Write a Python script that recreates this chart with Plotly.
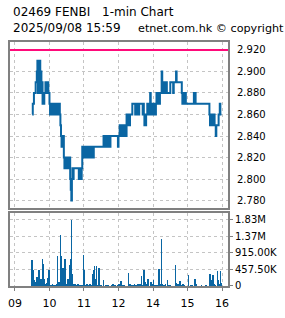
import plotly.graph_objects as go

# ---------------- data ----------------
prev_close = 2.92

price_times = ["09:30","09:31","09:33","09:36","09:38","09:39","09:40","09:41","09:42","09:43","09:44","09:45","09:46","09:47","09:48",
               "09:51","09:53","09:54","09:55","09:56","09:57","09:58","10:00","10:01","10:02","10:03","10:04","10:05","10:06",
               "10:09","10:10","10:11","10:12","10:13","10:14","10:15","10:16","10:18","10:19","10:20","10:21","10:22","10:23","10:24",
               "10:25","10:26","10:27","10:28","10:29","10:30","10:31","10:32","10:33","10:34","10:35","10:36","10:37","10:38","10:39",
               "10:40","10:41","10:42","10:51","10:52","10:53","10:54","10:55","10:56","10:57","10:58","10:59","11:00","11:01","11:03",
               "11:06","11:07","11:08","11:09","11:11","11:12","11:14","11:15","11:17",
               "11:34","11:35","11:36","11:37","11:38","11:41","11:42","11:43","11:44","11:45","11:46","11:59",
               "13:00","13:02","13:05","13:06","13:07","13:08","13:09","13:10","13:11","13:12","13:13",
               "13:14","13:15","13:16","13:19","13:20","13:24","13:29","13:30","13:32","13:33","13:35","13:36","13:42","13:43","13:44",
               "13:45","13:46","13:47","13:48","13:49","13:50","13:51","13:52","13:53","13:54","13:55","13:56","13:57","13:58","13:59",
               "14:00","14:01","14:02","14:03","14:04","14:05","14:06","14:09","14:10","14:11","14:12","14:15","14:16","14:17","14:18",
               "14:19","14:20","14:21","14:22","14:23","14:24","14:30","14:35","14:36","14:40","14:41","14:50","14:51","14:52","14:53",
               "14:54","14:57","15:11","15:14","15:38","15:39","15:40","15:41","15:42","15:43","15:44","15:45","15:46","15:47","15:49",
               "15:50","15:54","15:56","15:57","15:59"]
price_values = [2.86,2.87,2.88,2.89,2.90,2.91,2.88,2.91,2.89,2.91,2.88,2.90,2.88,2.89,2.87,
                2.88,2.89,2.88,2.89,2.88,2.89,2.88,2.87,2.86,2.87,2.86,2.87,2.86,2.87,
                2.86,2.87,2.86,2.87,2.86,2.87,2.86,2.87,2.86,2.85,2.84,2.83,2.84,2.83,2.84,
                2.82,2.81,2.82,2.81,2.82,2.81,2.82,2.81,2.82,2.81,2.82,2.80,2.79,2.78,2.80,
                2.81,2.80,2.81,2.80,2.81,2.80,2.81,2.80,2.81,2.83,2.82,2.83,2.82,2.83,2.82,
                2.83,2.82,2.83,2.82,2.83,2.82,2.83,2.82,2.83,
                2.84,2.83,2.84,2.83,2.84,2.83,2.84,2.83,2.84,2.83,2.84,2.83,
                2.84,2.85,2.84,2.85,2.84,2.85,2.84,2.85,2.84,2.85,2.84,
                2.86,2.85,2.86,2.85,2.86,2.87,2.86,2.87,2.86,2.87,2.86,2.87,2.86,2.87,2.86,
                2.85,2.86,2.85,2.86,2.86,2.87,2.86,2.87,2.86,2.87,2.88,2.86,2.87,2.86,2.87,
                2.86,2.87,2.86,2.87,2.86,2.87,2.88,2.87,2.88,2.87,2.88,2.90,2.88,2.89,2.88,
                2.89,2.88,2.89,2.88,2.89,2.88,2.89,2.88,2.89,2.90,2.89,2.88,2.87,2.88,2.87,
                2.88,2.87,2.88,2.87,2.86,2.85,2.86,2.85,2.86,2.85,2.86,2.85,2.86,2.85,2.84,
                2.85,2.86,2.87,2.86,2.86]

vol_times = ["09:30","09:31","09:32","09:33","09:34","09:35","09:36","09:37","09:38","09:39","09:40","09:41","09:42","09:43",
             "09:44","09:45","09:46","09:47","09:48","09:49","09:50","09:51","09:52","09:53","09:54","09:55","09:56","09:57",
             "09:58","09:59","10:00","10:02","10:03","10:05","10:06","10:07","10:08","10:10","10:12","10:13","10:14","10:15",
             "10:16","10:17","10:18","10:19","10:20","10:21","10:22","10:23","10:24","10:25","10:26","10:27","10:28","10:29",
             "10:30","10:31","10:32","10:33","10:34","10:35","10:36","10:37","10:38","10:39","10:40","10:41","10:42","10:44",
             "10:45","10:48","10:50","10:53","10:56","10:58","10:59","11:00","11:01","11:03","11:05","11:06","11:08","11:10",
             "11:11","11:12","11:13","11:16","11:17","11:18","11:19","11:21","11:22","11:23","11:25","11:26","11:30","11:34",
             "11:38","11:40","11:42","11:48","11:50","11:52","11:55","11:58","11:59",
             "13:00","13:01","13:02","13:03","13:04","13:05","13:06","13:07","13:10","13:17","13:19","13:20","13:21","13:23",
             "13:24","13:26","13:28","13:29","13:31","13:33","13:34","13:35","13:37","13:38","13:40","13:41","13:42","13:44",
             "13:45","13:46","13:47","13:49","13:51","13:52","13:56","13:57","13:58","14:00","14:01","14:03","14:05","14:08",
             "14:10","14:11","14:13","14:14","14:15","14:16","14:17","14:19","14:20","14:22","14:25","14:28","14:30","14:39",
             "14:40","14:42","14:44","14:45","14:47","14:50","14:52","14:55","15:02","15:05","15:08","15:13","15:15","15:24",
             "15:31","15:33","15:38","15:39","15:40","15:41","15:42","15:44","15:45","15:47","15:48","15:52","15:53","15:54",
             "15:56","15:57","15:58","15:59"]
vol_values_k = [732,150,441,120,183,60,90,120,266,150,208,100,457,440,
                150,208,80,120,765,300,624,208,60,40,58,30,100,233,
                60,457,291,40,30,60,40,30,50,30,58,40,832,120,
                60,120,40,1431,500,848,200,120,516,150,180,765,120,60,
                40,100,200,40,100,120,599,749,1830,300,333,60,40,80,
                40,30,60,30,40,40,873,457,40,30,60,30,40,60,
                20,40,30,333,450,557,200,100,557,40,40,516,20,183,
                30,30,30,30,58,30,30,30,40,
                60,80,50,40,150,40,30,20,20,358,30,60,40,40,
                30,50,60,40,30,60,50,80,60,30,291,50,30,457,
                80,120,60,60,208,60,120,100,80,60,183,40,30,40,
                483,60,60,40,1306,80,40,30,50,60,183,40,30,582,
                100,60,40,60,150,30,60,40,308,30,20,208,60,40,
                40,40,30,333,183,100,183,308,80,60,30,433,183,183,
                60,416,100,30]

x_tick_vals = ["09:00","10:00","11:00","12:00","14:00","15:00","16:00"]
x_tick_text = ["09","10","11","12","14","15","16"]
price_ticks = [2.78,2.80,2.82,2.84,2.86,2.88,2.90,2.92]
vol_ticks = [0,457500,915000,1372500,1830000]
vol_tick_text = ["0","457.50K","915.00K","1.37M","1.83M"]

title_line1a = "02469 FENBI"
title_line1b = "1-min Chart"
title_line2a = "2025/09/08 15:59"
title_line2b = "etnet.com.hk © copyright"


def to_axis(hhmm):
    # trading-minute scale: lunch break (12:00-13:00) removed
    h, m = map(int, hhmm.split(":"))
    mins = h * 60 + m - 540
    if h >= 13:
        mins -= 60
    return mins


px = [to_axis(t) for t in price_times]
vx = [to_axis(t) for t in vol_times]
vv = [v * 1000 for v in vol_values_k]
xt = [to_axis(t) for t in x_tick_vals]

BLUE = "#0a66a3"
GRID = "#c4c4c4"
FRAME = "#808080"
FONT = "DejaVu Sans"

fig = go.Figure()
fig.add_trace(go.Scatter(x=px, y=price_values, mode="lines", line=dict(color=BLUE, width=2, shape="hv"),
                         xaxis="x", yaxis="y", hoverinfo="skip"))
fig.add_trace(go.Bar(x=vx, y=vv, width=1, marker=dict(color=BLUE, line=dict(width=0)),
                     xaxis="x2", yaxis="y2", hoverinfo="skip"))

W, H = 285, 318
L, R, T, B = 8, 56, 42, 20
ph = H - T - B
top_dom = [(H - B - 216) / ph, 1]
bot_dom = [0, (H - B - 221) / ph]
xr = [-8.6, 370.3]

axis_common = dict(range=xr, tickvals=xt, showgrid=True, gridcolor=GRID, griddash="3px,3px", gridwidth=1,
                   showline=True, linecolor=FRAME, linewidth=2, mirror=True, zeroline=False, fixedrange=True)

fig.update_layout(
    width=W, height=H, margin=dict(l=L, r=R, t=T, b=B),
    paper_bgcolor="white", plot_bgcolor="white", showlegend=False, bargap=0,
    font=dict(family=FONT, size=10, color="black"),
    xaxis=dict(**axis_common, domain=[0, 1], anchor="y", showticklabels=False, ticks=""),
    yaxis=dict(domain=top_dom, anchor="x", side="right", range=[2.7732, 2.9274], tickvals=price_ticks,
               ticktext=[f"{v:.3f}" for v in price_ticks], showgrid=True, gridcolor=GRID, griddash="3px,3px",
               showline=True, linecolor=FRAME, linewidth=2, mirror=True, zeroline=False, ticks="",
               ticklabelstandoff=5, tickfont=dict(size=10)),
    xaxis2=dict(**axis_common, domain=[0, 1], anchor="y2", ticktext=x_tick_text, ticks="outside", ticklen=3,
                tickcolor=FRAME, tickfont=dict(size=11), ticklabelstandoff=3),
    yaxis2=dict(domain=bot_dom, anchor="x2", side="right", range=[0, 2030000], tickvals=vol_ticks,
                ticktext=vol_tick_text, showgrid=True, gridcolor=GRID, griddash="3px,3px",
                showline=True, linecolor=FRAME, linewidth=2, mirror=True, zeroline=False, ticks="outside",
                ticklen=3, tickcolor=FRAME, tickfont=dict(size=10)),
)

fig.add_shape(type="line", xref="x", yref="y", x0=xr[0], x1=xr[1], y0=prev_close, y1=prev_close,
              line=dict(color="#ff0a7a", width=2))


def pxx(p):
    return (p - L) / (W - L - R)


def pyy(p):
    return (H - B - p) / ph


for txt, xpix, ypix, fs in [(title_line1a, 9, 11, 12), (title_line1b, 99, 11, 12),
                            (title_line2a, 9, 27.5, 12), (title_line2b, 136, 27.5, 11.2)]:
    fig.add_annotation(text=txt, xref="paper", yref="paper", x=pxx(xpix), y=pyy(ypix), xanchor="left",
                       yanchor="middle", showarrow=False, font=dict(family=FONT, size=fs, color="black"))

fig.write_html("out.html")
